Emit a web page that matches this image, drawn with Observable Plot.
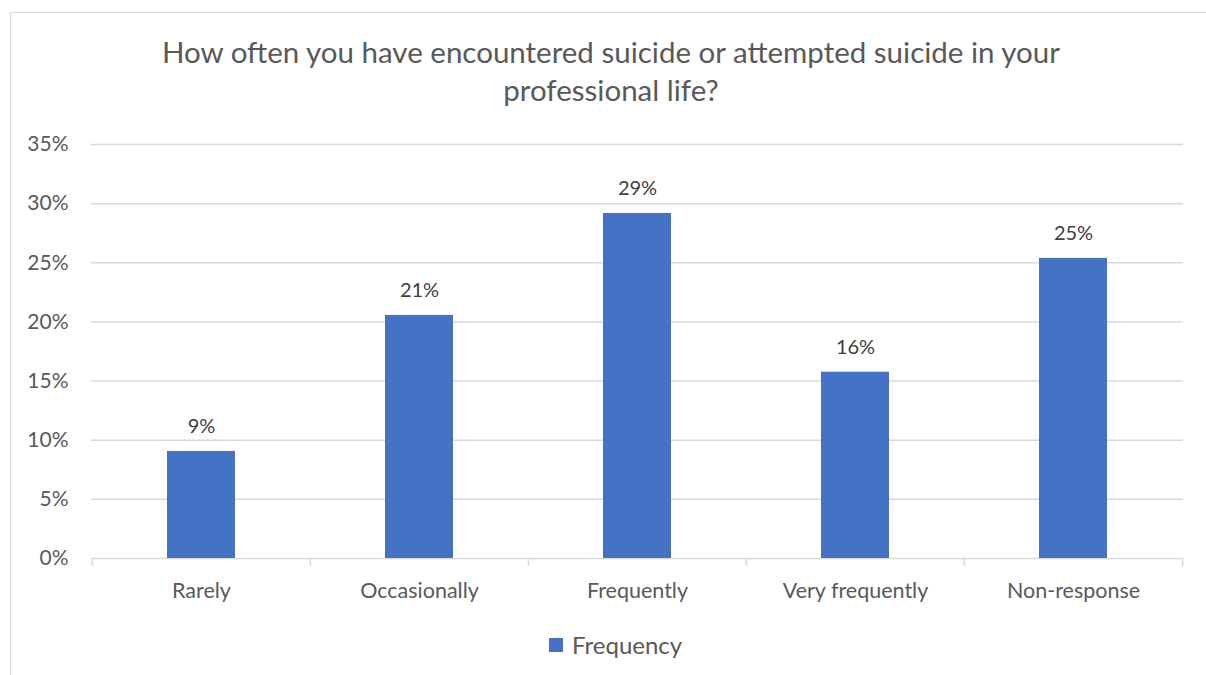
<!DOCTYPE html>
<html>
<head>
<meta charset="utf-8">
<script src="https://cdn.jsdelivr.net/npm/d3@7"></script>
<script src="https://cdn.jsdelivr.net/npm/@observablehq/plot@0.6"></script>
<style>
  html, body { margin: 0; padding: 0; background: #fff; width: 1206px; height: 675px; overflow: hidden; font-family: Lato, "Noto Sans", sans-serif; }
  #frame { position: absolute; left: 10px; top: 12px; width: 1300px; height: 800px; border: 1.5px solid #d9d9d9; box-sizing: border-box; }
  #title { position: absolute; left: 0; top: 33px; width: 1222px; text-align: center; font-size: 29.5px; line-height: 38px; color: #595959; }
  #chart { position: absolute; left: 0; top: 100px; }
  #chart svg { overflow: visible; }
  #legend { position: absolute; left: 549px; top: 630px; display: flex; align-items: center; font-size: 24px; color: #595959; }
  #legend .sw { width: 14px; height: 14px; background: #4472C4; margin-right: 9px; }
</style>
</head>
<body>
<div id="frame"></div>
<div id="title">How often you have encountered suicide or attempted suicide in your<br>professional life?</div>
<div id="chart"></div>
<div id="legend"><div class="sw"></div><span>Frequency</span></div>
<script>
const categories = ["Rarely", "Occasionally", "Frequently", "Very frequently", "Non-response"];
const values = [0.0905, 0.2055, 0.2917, 0.1575, 0.2537];
const labels = ["9%", "21%", "29%", "16%", "25%"];
const yTicks = [0, 0.05, 0.10, 0.15, 0.20, 0.25, 0.30, 0.35];

const data = categories.map((c, i) => ({category: c, value: values[i], label: labels[i]}));

const W = 1206, H = 520, mL = 91, mR = 23;
const step = (W - mL - mR) / categories.length;

const chart = Plot.plot({
  width: W,
  height: H,
  marginLeft: mL,
  marginRight: mR,
  marginTop: 44,
  marginBottom: 62,
  style: {fontFamily: "Lato, 'Noto Sans', sans-serif", color: "#595959", background: "transparent"},
  x: {domain: categories, paddingInner: 0.686, paddingOuter: 0.343, label: null},
  y: {domain: [0, 0.35], label: null},
  marks: [
    Plot.ruleY(yTicks, {stroke: "#d9d9d9", strokeWidth: 1.5}),
    Plot.ruleX(categories, {x: d => d, y1: 0, y2: 0, dx: -step / 2, stroke: "#d9d9d9", strokeWidth: 1.5, insetBottom: -8}),
    Plot.ruleX([categories[categories.length - 1]], {x: d => d, y1: 0, y2: 0, dx: step / 2, stroke: "#d9d9d9", strokeWidth: 1.5, insetBottom: -8}),
    Plot.barY(data, {x: "category", y: "value", fill: "#4472C4"}),
    Plot.text(data, {x: "category", y: "value", text: "label", dy: -18, lineAnchor: "bottom", fontSize: 20, fill: "#404040"}),
    Plot.axisY({ticks: yTicks, tickFormat: d3.format(".0%"), tickSize: 0, tickPadding: 23, fontSize: 21, fill: "#595959"}),
    Plot.axisX({tickSize: 0, tickPadding: 24, fontSize: 21.5, fill: "#595959"})
  ]
});
document.getElementById("chart").appendChild(chart);
</script>
</body>
</html>
